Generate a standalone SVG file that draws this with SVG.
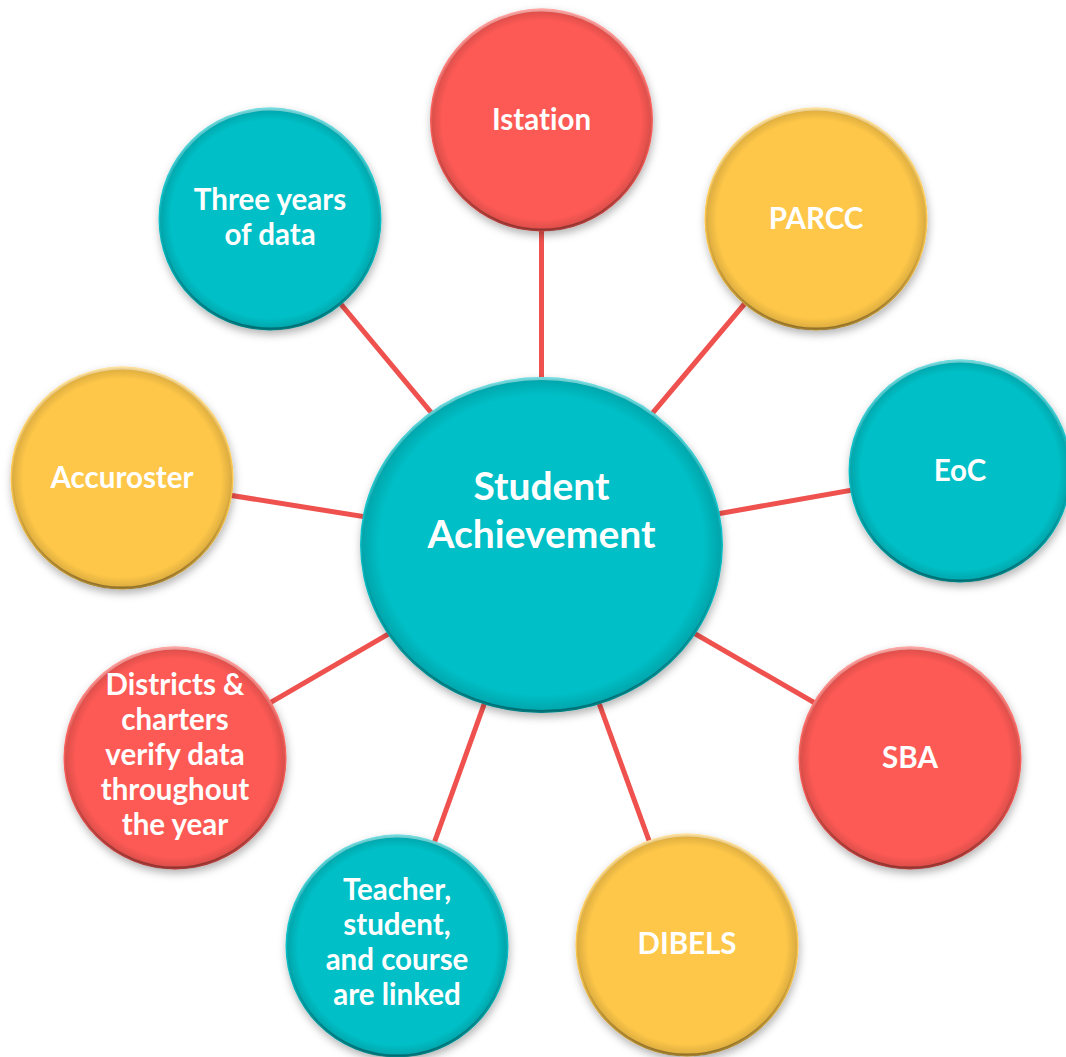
<svg xmlns="http://www.w3.org/2000/svg" width="1066" height="1057" viewBox="0 0 1066 1057">
<style>
.conn{stroke:#EF524E;stroke-width:5;fill:none}
.teal{fill:#06BFC6}
.red{fill:#FE5A55}
.yel{fill:#FEC74A}
.bevel{fill:url(#edge);stroke:url(#rim);stroke-width:3}
.lbl{font-family:Lato,"Open Sans",sans-serif;font-weight:bold;fill:#FFFFFF;text-anchor:middle;font-size:29.5px;font-variant-ligatures:none}
.big{font-size:39px}
</style>
<defs>
<filter id="sh" x="-20%" y="-20%" width="140%" height="140%">
<feDropShadow dx="1" dy="4" stdDeviation="4" flood-color="#000" flood-opacity="0.3"/>
</filter>
<radialGradient id="edge" cx="0.5" cy="0.5" r="0.5">
<stop offset="0.9" stop-color="#000" stop-opacity="0"/>
<stop offset="1" stop-color="#000" stop-opacity="0.14"/>
</radialGradient>
<linearGradient id="rim" x1="0" y1="0" x2="0" y2="1">
<stop offset="0" stop-color="#fff" stop-opacity="0.45"/>
<stop offset="0.4" stop-color="#fff" stop-opacity="0.05"/>
<stop offset="0.65" stop-color="#000" stop-opacity="0.05"/>
<stop offset="1" stop-color="#000" stop-opacity="0.35"/>
</linearGradient>
</defs>
<rect width="1066" height="1057" fill="#FFFFFF"/>
<g id="connectors">
<line class="conn" x1="541.5" y1="545" x2="541.5" y2="120"/>
<line class="conn" x1="541.5" y1="545" x2="816" y2="219"/>
<line class="conn" x1="541.5" y1="545" x2="960" y2="471"/>
<line class="conn" x1="541.5" y1="545" x2="910" y2="758"/>
<line class="conn" x1="541.5" y1="545" x2="687" y2="945"/>
<line class="conn" x1="541.5" y1="545" x2="397" y2="946"/>
<line class="conn" x1="541.5" y1="545" x2="175" y2="758"/>
<line class="conn" x1="541.5" y1="545" x2="122" y2="478"/>
<line class="conn" x1="541.5" y1="545" x2="270" y2="219"/>
</g>
<g id="node-istation">
<circle class="red" cx="541.5" cy="120" r="111.5" filter="url(#sh)"/>
<circle class="bevel" cx="541.5" cy="120" r="110"/>
<text class="lbl" x="541.5" y="130">Istation</text>
</g>
<g id="node-parcc">
<circle class="yel" cx="816" cy="219" r="111.5" filter="url(#sh)"/>
<circle class="bevel" cx="816" cy="219" r="110"/>
<text class="lbl" x="816" y="229">PARCC</text>
</g>
<g id="node-eoc">
<circle class="teal" cx="960" cy="471" r="111.5" filter="url(#sh)"/>
<circle class="bevel" cx="960" cy="471" r="110"/>
<text class="lbl" x="960" y="481">EoC</text>
</g>
<g id="node-sba">
<circle class="red" cx="910" cy="758" r="111.5" filter="url(#sh)"/>
<circle class="bevel" cx="910" cy="758" r="110"/>
<text class="lbl" x="910" y="768">SBA</text>
</g>
<g id="node-dibels">
<circle class="yel" cx="687" cy="945" r="111.5" filter="url(#sh)"/>
<circle class="bevel" cx="687" cy="945" r="110"/>
<text class="lbl" x="687" y="954">DIBELS</text>
</g>
<g id="node-teacher">
<circle class="teal" cx="397" cy="946" r="111.5" filter="url(#sh)"/>
<circle class="bevel" cx="397" cy="946" r="110"/>
<text class="lbl" x="397" y="900">Teacher,</text>
<text class="lbl" x="397" y="935">student,</text>
<text class="lbl" x="397" y="970">and course</text>
<text class="lbl" x="397" y="1005">are linked</text>
</g>
<g id="node-districts">
<circle class="red" cx="175" cy="758" r="111.5" filter="url(#sh)"/>
<circle class="bevel" cx="175" cy="758" r="110"/>
<text class="lbl" x="175" y="695">Districts &amp;</text>
<text class="lbl" x="175" y="730">charters</text>
<text class="lbl" x="175" y="765">verify data</text>
<text class="lbl" x="175" y="800">throughout</text>
<text class="lbl" x="175" y="835">the year</text>
</g>
<g id="node-accuroster">
<circle class="yel" cx="122" cy="478" r="111.5" filter="url(#sh)"/>
<circle class="bevel" cx="122" cy="478" r="110"/>
<text class="lbl" x="122" y="488">Accuroster</text>
</g>
<g id="node-threeyears">
<circle class="teal" cx="270" cy="219" r="111.5" filter="url(#sh)"/>
<circle class="bevel" cx="270" cy="219" r="110"/>
<text class="lbl" x="270" y="210">Three years</text>
<text class="lbl" x="270" y="245">of data</text>
</g>
<g id="node-center">
<ellipse class="teal" cx="541.5" cy="545" rx="181.5" ry="168" filter="url(#sh)"/>
<ellipse class="bevel" cx="541.5" cy="545" rx="180" ry="166.5"/>
<text class="lbl big" x="541.5" y="500">Student</text>
<text class="lbl big" x="541.5" y="548">Achievement</text>
</g>
</svg>
